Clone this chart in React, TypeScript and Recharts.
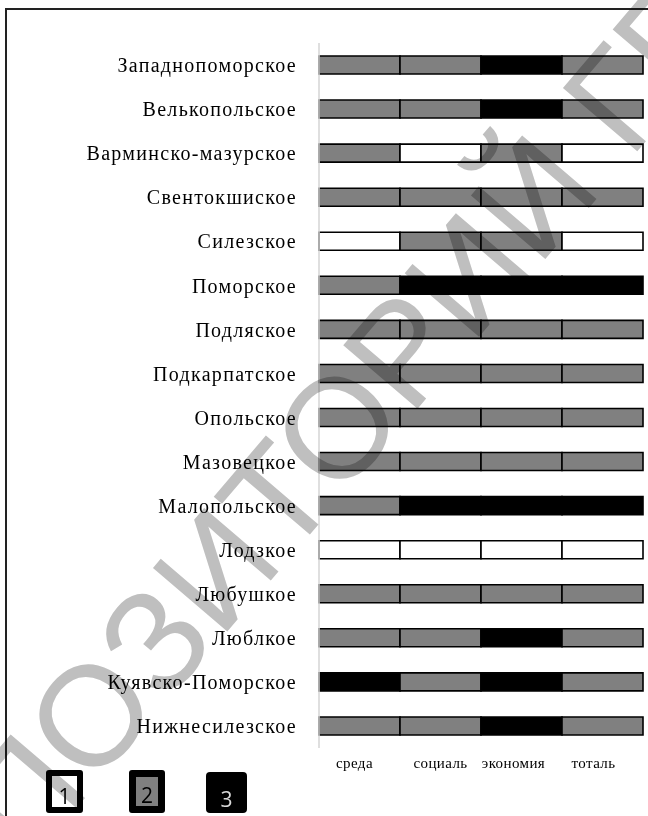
import React from 'react';
import { BarChart, Bar, XAxis, YAxis, Cell } from 'recharts';

const regions = [
  'Западнопоморское',
  'Велькопольское',
  'Варминско-мазурское',
  'Свентокшиское',
  'Силезское',
  'Поморское',
  'Подляское',
  'Подкарпатское',
  'Опольское',
  'Мазовецкое',
  'Малопольское',
  'Лодзкое',
  'Любушкое',
  'Люблкое',
  'Куявско-Поморское',
  'Нижнесилезское',
];

const indicators = ['среда', 'социаль', 'экономия', 'тоталь'];

const envClass = [2, 2, 2, 2, 1, 2, 2, 2, 2, 2, 2, 1, 2, 2, 3, 2];
const socClass = [2, 2, 1, 2, 2, 3, 2, 2, 2, 2, 3, 1, 2, 2, 2, 2];
const ecoClass = [3, 3, 2, 2, 2, 3, 2, 2, 2, 2, 3, 1, 2, 3, 3, 3];
const totClass = [2, 2, 1, 2, 1, 3, 2, 2, 2, 2, 3, 1, 2, 2, 2, 2];

const segmentShare = [25, 25, 25, 25];
const indicatorTicks = [12.5, 37.5, 62.5, 87.5];
const legendClasses = [1, 2, 3];

const classSeries = [envClass, socClass, ecoClass, totClass];
const classColors: Record<number, string> = { 1: '#ffffff', 2: '#808080', 3: '#000000' };

const data = regions.map((name) => ({
  name,
  s0: segmentShare[0],
  s1: segmentShare[1],
  s2: segmentShare[2],
  s3: segmentShare[3],
}));

const xLabelShift = [-5, 0, -8, -9];

const YTick = (props: any) => {
  const { y, payload } = props;
  return (
    <text
      x={297}
      y={y}
      dy="0.36em"
      textAnchor="end"
      fontFamily="'Liberation Serif', 'Times New Roman', serif"
      fontSize={20}
      letterSpacing={1.3}
      fill="#000"
    >
      {payload.value}
    </text>
  );
};

const XTick = (props: any) => {
  const { x, y, payload, index } = props;
  const i = indicatorTicks.indexOf(payload.value);
  return (
    <text
      x={x + (xLabelShift[i] ?? 0)}
      y={y + 12}
      textAnchor="middle"
      fontFamily="'Liberation Serif', 'Times New Roman', serif"
      fontSize={15}
      letterSpacing={0.4}
      fill="#000"
    >
      {indicators[i >= 0 ? i : index]}
    </text>
  );
};

const legendBoxStyles: React.CSSProperties[] = [
  { left: 46, top: 770, width: 37, height: 43, border: '6px solid #000', background: '#fff', color: '#000', borderRadius: 3 },
  { left: 129, top: 770, width: 36, height: 43, border: '7px solid #000', background: '#808080', color: '#000', borderRadius: 3 },
  { left: 206, top: 772, width: 41, height: 41, border: '0px solid #000', background: '#000', color: '#d9d9d9', borderRadius: 4 },
];

export default function App() {
  return (
    <div style={{ position: 'absolute', left: 0, top: 0, width: 648, height: 816, overflow: 'hidden', background: '#fff' }}>
      <div
        style={{
          position: 'absolute',
          left: 5,
          top: 8,
          width: 800,
          height: 900,
          borderTop: '2px solid #222',
          borderLeft: '2px solid #222',
          boxSizing: 'border-box',
        }}
      />
      <div style={{ position: 'absolute', left: 0, top: 0 }}>
        <BarChart
          width={648}
          height={816}
          data={data}
          layout="vertical"
          margin={{ top: 43, right: 5, bottom: 38, left: 0 }}
          barSize={18}
        >
          <XAxis
            type="number"
            domain={[0, 100]}
            ticks={indicatorTicks}
            axisLine={false}
            tickLine={false}
            height={30}
            tick={<XTick />}
            interval={0}
          />
          <YAxis
            type="category"
            dataKey="name"
            width={319}
            axisLine={{ stroke: '#d4d4d4', strokeWidth: 1.5 }}
            tickLine={false}
            tick={<YTick />}
            interval={0}
          />
          {['s0', 's1', 's2', 's3'].map((key, k) => (
            <Bar key={key} dataKey={key} stackId="a" stroke="#000" strokeWidth={1.6} isAnimationActive={false}>
              {data.map((d, i) => (
                <Cell key={i} fill={classColors[classSeries[k][i]]} />
              ))}
            </Bar>
          ))}
        </BarChart>
      </div>
      {legendClasses.map((c, i) => (
        <div
          key={c}
          style={{
            position: 'absolute',
            boxSizing: 'border-box',
            ...legendBoxStyles[i],
            fontFamily: "'Open Sans', 'Liberation Sans', sans-serif",
            fontSize: 21,
            lineHeight: 1,
            display: 'flex',
            alignItems: 'flex-end',
            justifyContent: 'center',
            paddingBottom: i === 2 ? 3 : 0,
          }}
        >
          {c}
        </div>
      ))}
      <svg
        width={648}
        height={816}
        style={{ position: 'absolute', left: 0, top: 0, pointerEvents: 'none', mixBlendMode: 'multiply' }}
      >
        <text
          x={-97}
          y={1011}
          transform="rotate(-49.5 -97 1011)"
          fontFamily="'Liberation Sans', Arial, sans-serif"
          fontSize={142}
          fill="#bfbfbf"
        >
          РЕПОЗИТОРИЙ ГГУ
        </text>
      </svg>
    </div>
  );
}
